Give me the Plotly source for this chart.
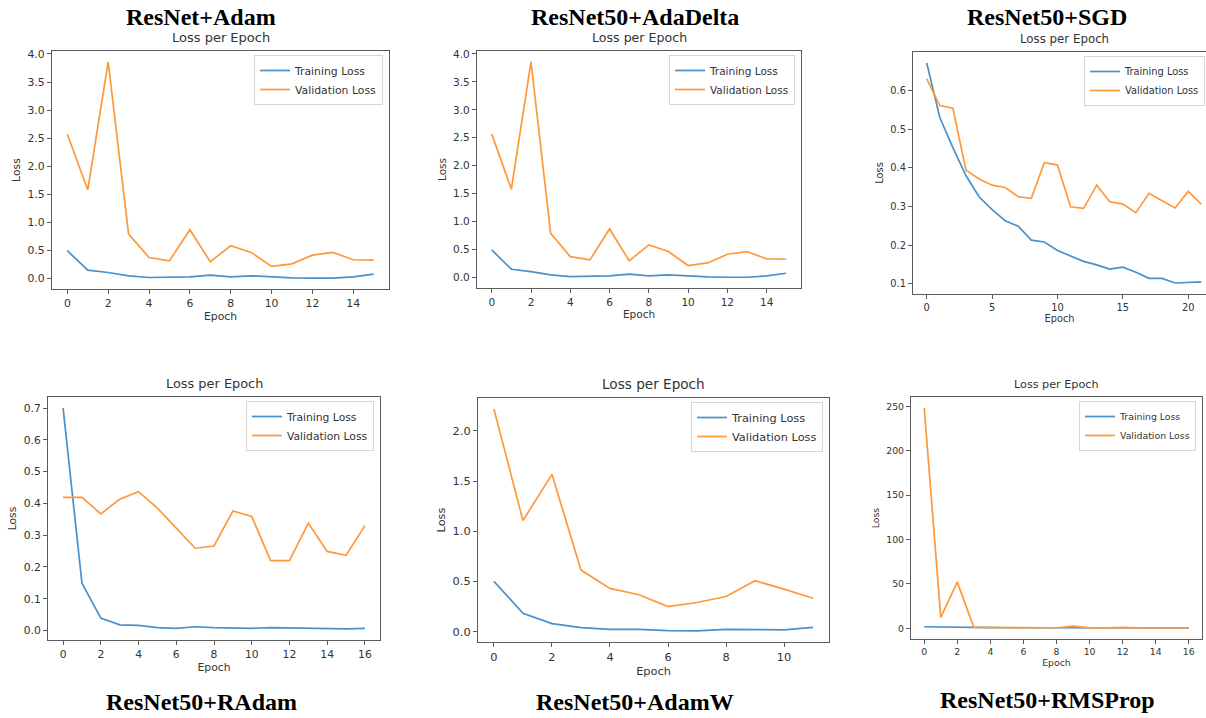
import plotly.graph_objects as go

W, H = 1206, 718

# ---------------- data ----------------
panel_names = ["ResNet+Adam", "ResNet50+AdaDelta", "ResNet50+SGD",
               "ResNet50+RAdam", "ResNet50+AdamW", "ResNet50+RMSProp"]
subtitle = "Loss per Epoch"
series_names = ["Training Loss", "Validation Loss"]
x_label = "Epoch"
y_label = "Loss"

adam_train = [0.495, 0.149, 0.107, 0.048, 0.018, 0.018, 0.030, 0.060, 0.030, 0.048,
              0.024, 0.012, 0.006, 0.006, 0.030, 0.077]
adam_val = [2.57, 1.58, 3.86, 0.79, 0.375, 0.316, 0.87, 0.30, 0.584, 0.465,
            0.215, 0.262, 0.417, 0.465, 0.334, 0.328]

adadelta_train = [0.495, 0.149, 0.107, 0.048, 0.018, 0.018, 0.030, 0.060, 0.030, 0.048,
                  0.024, 0.012, 0.006, 0.006, 0.030, 0.077]
adadelta_val = [2.57, 1.58, 3.86, 0.79, 0.375, 0.316, 0.87, 0.30, 0.584, 0.465,
                0.215, 0.262, 0.417, 0.465, 0.334, 0.328]

sgd_train = [0.671, 0.530, 0.452, 0.380, 0.325, 0.292, 0.263, 0.249, 0.213, 0.208,
             0.186, 0.173, 0.158, 0.149, 0.138, 0.143, 0.130, 0.114, 0.114, 0.102,
             0.104, 0.105]
sgd_val = [0.630, 0.561, 0.554, 0.394, 0.371, 0.355, 0.349, 0.325, 0.321, 0.414,
           0.407, 0.299, 0.295, 0.355, 0.312, 0.306, 0.284, 0.334, 0.315, 0.296,
           0.339, 0.306]

radam_train = [0.700, 0.149, 0.039, 0.018, 0.016, 0.009, 0.007, 0.012, 0.009, 0.007,
               0.007, 0.009, 0.008, 0.008, 0.007, 0.005, 0.007]
radam_val = [0.419, 0.419, 0.367, 0.413, 0.437, 0.385, 0.322, 0.259, 0.266, 0.376,
             0.359, 0.220, 0.220, 0.338, 0.249, 0.237, 0.330]

adamw_train = [0.500, 0.183, 0.080, 0.040, 0.023, 0.023, 0.010, 0.007, 0.023, 0.017,
               0.017, 0.043]
adamw_val = [2.217, 1.107, 1.567, 0.613, 0.430, 0.367, 0.250, 0.290, 0.350, 0.507,
             0.423, 0.333]

rmsprop_train = [1.8, 1.4, 1.1, 0.9, 0.8, 0.7, 0.6, 0.6, 0.5, 0.6, 0.5, 0.5, 0.5,
                 0.4, 0.4, 0.4, 0.4]
rmsprop_val = [248.0, 12.4, 52.0, 1.1, 1.0, 0.8, 0.7, 0.6, 0.7, 2.5, 0.6, 0.6, 1.2,
               0.6, 0.5, 0.5, 0.6]

train_series = [adam_train, adadelta_train, sgd_train, radam_train, adamw_train, rmsprop_train]
val_series = [adam_val, adadelta_val, sgd_val, radam_val, adamw_val, rmsprop_val]

# ---------------- layout/style ----------------
# axes box in pixels: (left, top, right, bottom)
boxes = [(52, 51, 389, 289), (477, 51, 801, 288), (913, 52, 1215, 294),
         (48, 397, 380, 640), (478, 398, 829, 642), (911, 397, 1202, 639)]
title_size = [13.0, 12.6, 11.8, 12.9, 13.6, 11.2]
name_pos = [(201, 17), (635, 17), (1047, 17), (201, 702), (635, 702), (1047, 700)]
x_dticks = [2, 2, 5, 2, 2, 2]
y_dticks = [0.5, 0.5, 0.1, 0.1, 0.5, 50]
y_formats = [".1f", ".1f", ".1f", ".1f", ".1f", "d"]

C_TRAIN = "#4a90ca"
C_VAL = "#ff983a"
SPINE = "#5a5a5a"
TXT = "#333333"

fig = go.Figure()
annotations = []
layout = dict(
    width=W, height=H,
    margin=dict(l=0, r=0, t=0, b=0, autoexpand=False),
    paper_bgcolor="white", plot_bgcolor="white",
    font=dict(family="DejaVu Sans", color=TXT),
)

for i in range(6):
    k = "" if i == 0 else str(i + 1)
    l, t, r, b = boxes[i]
    tr, va = train_series[i], val_series[i]
    epochs = list(range(len(tr)))
    fs = title_size[i]
    tfs = fs * 10.0 / 12.0

    # matplotlib-like 5% autoscale margins
    x_lo, x_hi = epochs[0], epochs[-1]
    pad = 0.05 * (x_hi - x_lo)
    xr = [x_lo - pad, x_hi + pad]
    allv = tr + va
    vmin, vmax = min(allv), max(allv)
    ypad = 0.05 * (vmax - vmin)
    yr = [vmin - ypad, vmax + ypad]

    # crop panels that run off the page edge (no right spine visible then)
    r_vis = min(r, W)
    cropped = r > W
    if cropped:
        xr[1] = xr[0] + (xr[1] - xr[0]) * (r_vis - l) / (r - l)

    leg = "legend" if i == 0 else "legend" + str(i + 1)
    fig.add_trace(go.Scatter(x=epochs, y=tr, mode="lines", name=series_names[0],
                             line=dict(color=C_TRAIN, width=1.7),
                             xaxis="x" + k, yaxis="y" + k, legend=leg))
    fig.add_trace(go.Scatter(x=epochs, y=va, mode="lines", name=series_names[1],
                             line=dict(color=C_VAL, width=1.7),
                             xaxis="x" + k, yaxis="y" + k, legend=leg))

    ax_common = dict(showline=True, linecolor=SPINE, linewidth=1.2,
                     ticks="outside", ticklen=4, tickcolor=SPINE, showgrid=False,
                     zeroline=False, tickfont=dict(size=tfs, color=TXT))
    layout["xaxis" + k] = dict(ax_common, mirror=True, domain=[l / W, r_vis / W], range=xr,
                               anchor="y" + k, tick0=0, dtick=x_dticks[i],
                               title=dict(text=x_label, font=dict(size=tfs, color=TXT), standoff=3))
    layout["yaxis" + k] = dict(ax_common, mirror=not cropped,
                               domain=[1 - b / H, 1 - t / H], range=yr,
                               anchor="x" + k, tick0=0, dtick=y_dticks[i],
                               tickformat=y_formats[i],
                               title=dict(text=y_label, font=dict(size=tfs, color=TXT), standoff=4))

    # legend (top-right inside each axes; kept on the page for the cropped panel)
    lx = (min(r, W + 5) - 6) / W
    layout[leg] = dict(x=lx, xanchor="right", y=1 - (t + 4) / H, yanchor="top",
                       xref="paper", yref="paper",
                       bgcolor="rgba(255,255,255,0.9)", bordercolor="#d6d6d6", borderwidth=1,
                       font=dict(size=tfs, color=TXT), itemwidth=30, tracegroupgap=0)

    # "Loss per Epoch"
    annotations.append(dict(text=subtitle, x=(l + r) / 2 / W, y=1 - (t - 4) / H,
                            xref="paper", yref="paper", xanchor="center", yanchor="bottom",
                            showarrow=False, font=dict(size=fs, color=TXT)))
    # panel name
    nx, ny = name_pos[i]
    annotations.append(dict(text="<b>" + panel_names[i] + "</b>", x=nx / W, y=1 - ny / H,
                            xref="paper", yref="paper", xanchor="center", yanchor="middle",
                            showarrow=False,
                            font=dict(family="Liberation Serif", size=24, color="black")))

layout["annotations"] = annotations
fig.update_layout(**layout)
fig.write_html("out.html", config={"displayModeBar": False})

# remove the browser's default page margin so the figure sits at (0, 0)
with open("out.html", "r", encoding="utf-8") as f:
    html = f.read()
html = html.replace("<head>", "<head><style>html,body{margin:0;padding:0;overflow:hidden;}</style>", 1)
with open("out.html", "w", encoding="utf-8") as f:
    f.write(html)
